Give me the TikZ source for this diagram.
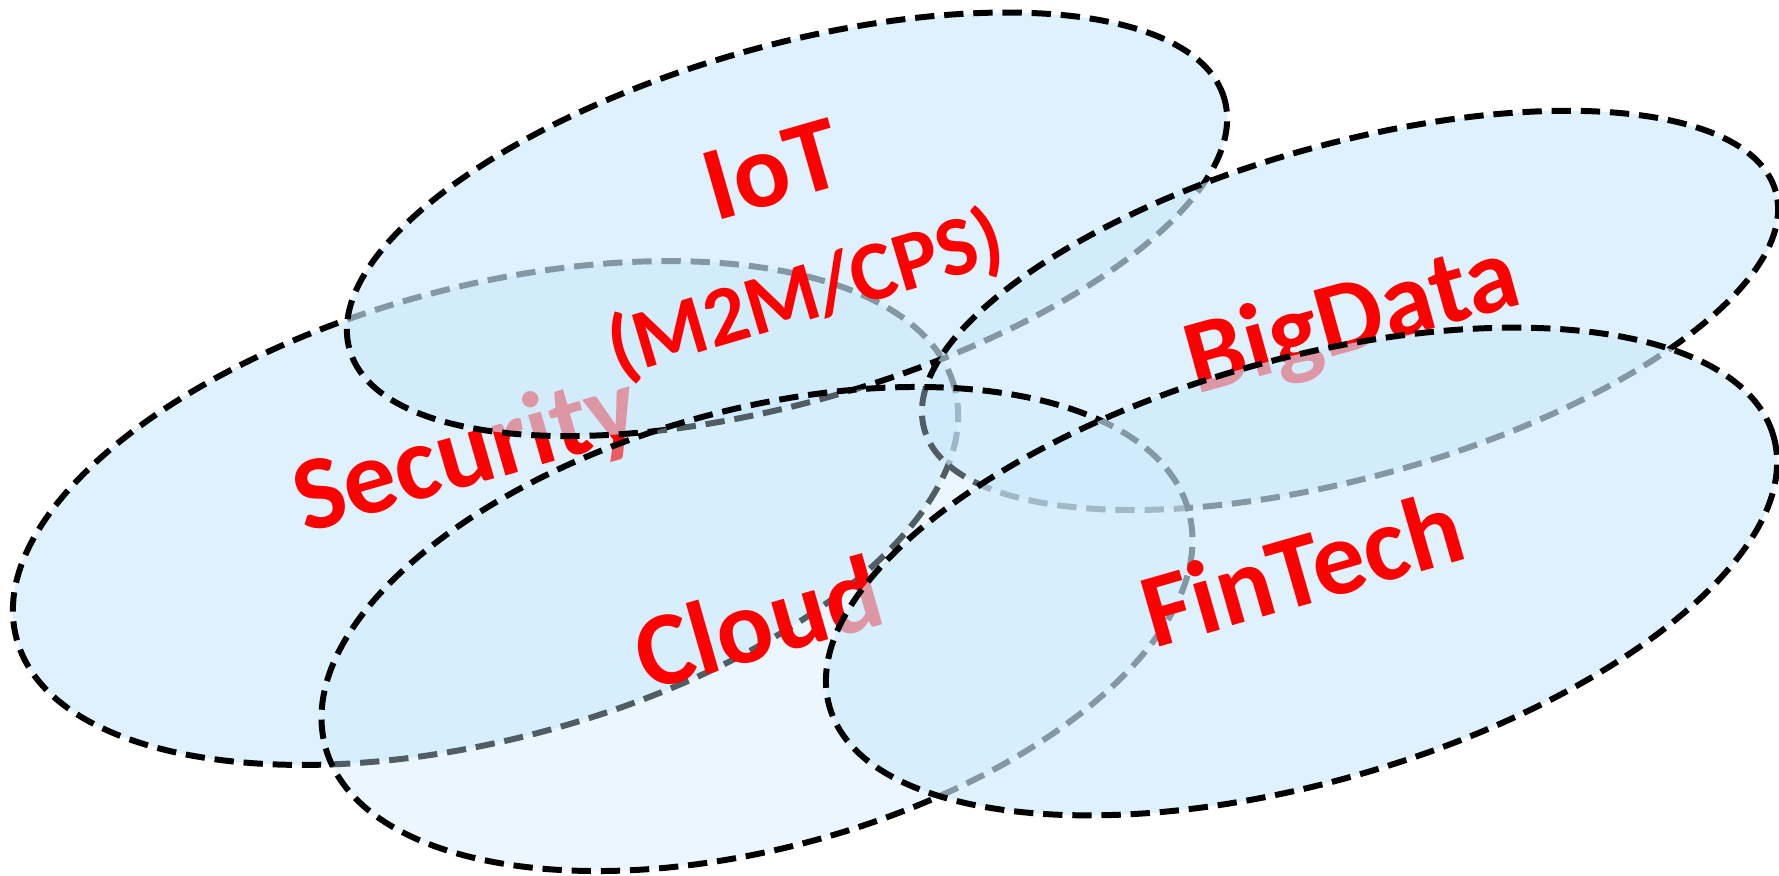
\documentclass[tikz,border=0pt]{standalone}
\usepackage{fontspec}
\setmainfont{Carlito}
\usetikzlibrary{shapes.geometric}

\definecolor{blobfill}{RGB}{204,233,252}
\tikzset{
  blob/.style={ellipse, draw=black, line width=1.7pt, dash pattern=on 5.5pt off 2.8pt,
    fill=blobfill, fill opacity=0.65, inner sep=0pt},
  lbl/.style={text=red, font=\bfseries\fontsize{30}{36}\selectfont, inner sep=0pt}
}

\begin{document}
\begin{tikzpicture}
    \useasboundingbox (0,0) rectangle (17.79,-8.75);

    % security
    \node[blob, minimum width=9.71cm, minimum height=4.52cm, rotate=15] (security) at (4.855,-5.13) {};
    \node[lbl, rotate=16] (securitytxt) at (4.67,-4.57) {Security};

    % iot
    \node[blob, minimum width=9.10cm, minimum height=3.55cm, rotate=16] (iot) at (7.87,-2.243) {};
    \node[lbl, rotate=16] (iottxt) at (7.72,-1.70) {IoT};
    \node[lbl, rotate=16.5, font=\bfseries\fontsize{24}{28}\selectfont] (m2mtxt) at (8.06,-2.95) {(M2M/CPS)};

    % bigdata
    \node[blob, minimum width=8.84cm, minimum height=3.33cm, rotate=15.6] (bigdata) at (13.50,-3.104) {};
    \node[lbl, rotate=15.5] (bigdatatxt) at (13.53,-3.22) {BigData};

    % cloud
    \node[blob, fill opacity=0.4, minimum width=8.95cm, minimum height=4.38cm, rotate=15.3] (cloud) at (7.57,-6.29) {};
    \node[lbl, rotate=16] (cloudtxt) at (7.58,-6.22) {Cloud};

    % fintech
    \node[blob, minimum width=9.82cm, minimum height=4.22cm, rotate=16] (fintech) at (13.015,-5.715) {};
    \node[lbl, rotate=16] (fintechtxt) at (13.02,-5.68) {FinTech};
\end{tikzpicture}
\end{document}
